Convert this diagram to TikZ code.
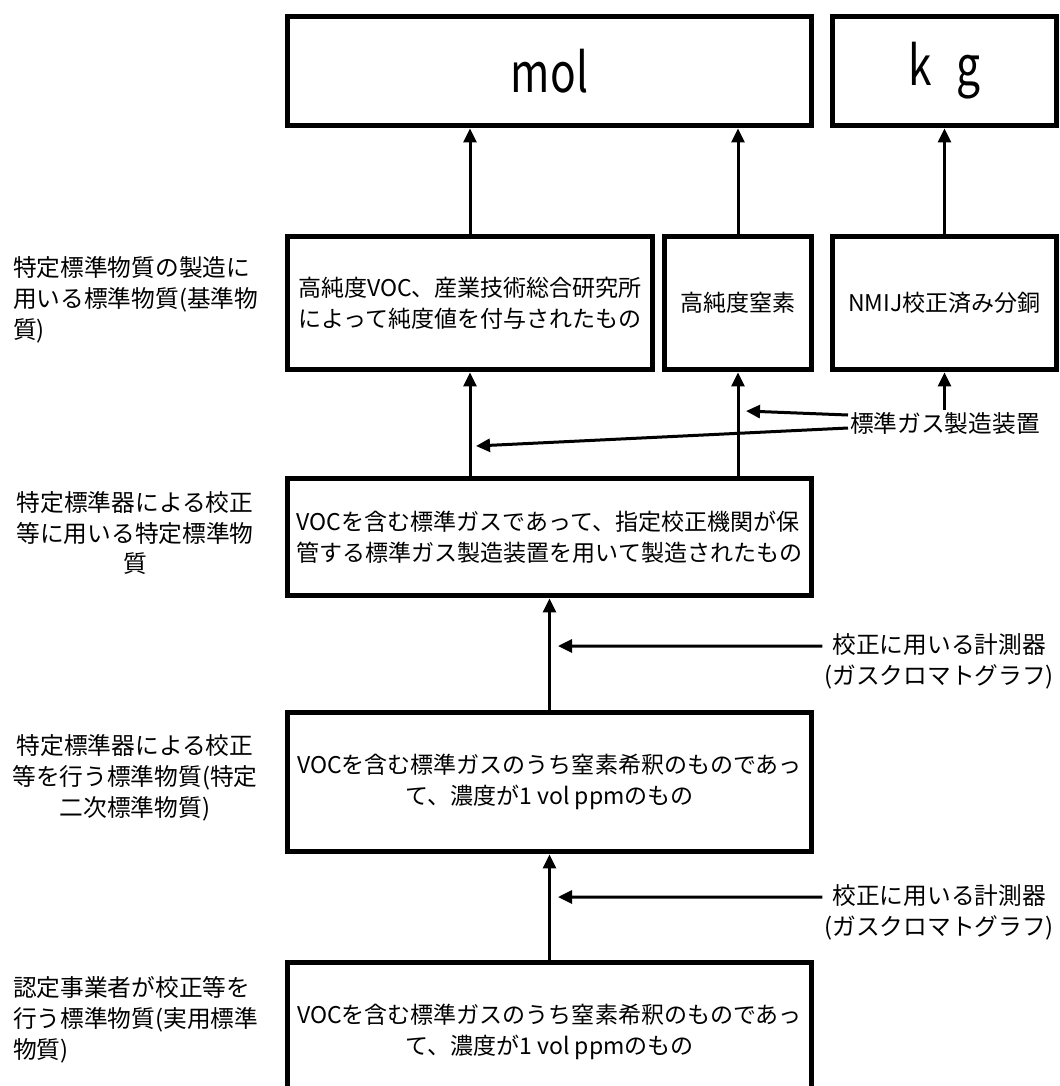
\documentclass[tikz,border=0pt]{standalone}
\usepackage{fontspec}
\setmainfont{Noto Sans CJK JP}
\newfontfamily\narrowfont[FakeStretch=0.78]{Noto Sans CJK JP}
\usepackage{tikz}
\usetikzlibrary{calc,positioning,arrows.meta}

\begin{document}
\begin{tikzpicture}[
  x=0.02cm, y=-0.02cm,
  unitbox/.style={draw, line width=0.1cm, inner sep=0pt, font=\narrowfont\fontsize{31}{34}\selectfont},
  block/.style={draw, line width=0.1cm, inner sep=1pt, align=center, font=\fontsize{13.1}{17.5}\selectfont},
  lbl/.style={inner sep=1pt, font=\fontsize{13.5}{17.5}\selectfont},
  arr/.style={-{Triangle[length=0.28cm,width=0.26cm]}, line width=0.06cm}
]
\useasboundingbox (0,0) rectangle (1059,1086);

% units
\node[unitbox, minimum width=10.5cm, minimum height=2.2cm] (mol) at (549.5,71) {mol};
\node[unitbox, minimum width=4.5cm, minimum height=2.2cm] (kg) at (944.5,71) {k\;\,g};

% reference materials
\node[block, align=left, minimum width=7.32cm, minimum height=2.68cm] (pure) at (470,303) {高純度VOC、産業技術総合研究所\\によって純度値を付与されたもの};
\node[block, minimum width=2.96cm, minimum height=2.68cm] (nitro) at (738,303) {高純度窒素};
\node[block, minimum width=4.5cm, minimum height=2.68cm] (weight) at (944.5,303) {NMIJ校正済み分銅};

% standard gases
\node[block, align=left, minimum width=10.5cm, minimum height=2.36cm] (spec) at (549.5,537) {VOCを含む標準ガスであって、指定校正機関が保\\管する標準ガス製造装置を用いて製造されたもの};
\node[block, minimum width=10.5cm, minimum height=2.8cm] (second) at (549.5,782) {VOCを含む標準ガスのうち窒素希釈のものであっ\\て、濃度が1 vol ppmのもの};
\node[block, minimum width=10.5cm, minimum height=2.8cm] (work) at (549.5,1032) {VOCを含む標準ガスのうち窒素希釈のものであっ\\て、濃度が1 vol ppmのもの};

% row labels
\node[lbl, anchor=west, align=left] (lbla) at (11,300) {特定標準物質の製造に\\用いる標準物質(基準物\\質)};
\node[lbl, align=center] (lblb) at (135,533) {特定標準器による校正\\等に用いる特定標準物\\質};
\node[lbl, align=center] (lblc) at (135,778) {特定標準器による校正\\等を行う標準物質(特定\\二次標準物質)};
\node[lbl, anchor=west, align=left] (lbld) at (11,1020) {認定事業者が校正等を\\行う標準物質(実用標準\\物質)};

% devices
\node[lbl, anchor=west] (gasdev) at (848,423) {標準ガス製造装置};
\node[lbl, anchor=east, align=center] (gcA) at (1056,661) {校正に用いる計測器\\(ガスクロマトグラフ)};
\node[lbl, anchor=east, align=center] (gcB) at (1056,912) {校正に用いる計測器\\(ガスクロマトグラフ)};

\coordinate (tipA) at (746,411);
\coordinate (tipB) at (476,446);
\coordinate (tipC) at (558,646);
\coordinate (tipD) at (558,897);

% traceability
\draw[arr] (pure.north) -- (pure.north |- mol.south);
\draw[arr] (nitro.north) -- (nitro.north |- mol.south);
\draw[arr] (weight) -- (kg);
\draw[arr] (pure.south |- spec.north) -- (pure.south);
\draw[arr] (nitro.south |- spec.north) -- (nitro.south);
\draw[arr] (weight.south |- gasdev.north) -- (weight.south);
\draw[arr] ([yshift=0.16cm]gasdev.west) -- (tipA);
\draw[arr] ([yshift=-0.1cm]gasdev.west) -- (tipB);
\draw[arr] (second) -- (spec);
\draw[arr] (work) -- (second);
\draw[arr] ([yshift=0.3cm]gcA.west) -- (tipC);
\draw[arr] ([yshift=0.3cm]gcB.west) -- (tipD);
\end{tikzpicture}
\end{document}
